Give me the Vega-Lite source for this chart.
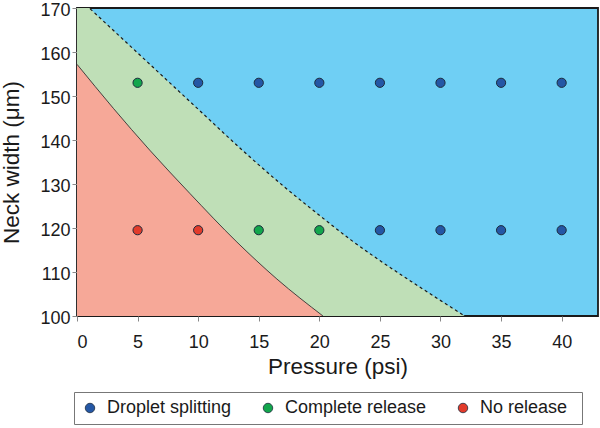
{
  "$schema": "https://vega.github.io/schema/vega-lite/v6.json",
  "width": 521,
  "height": 308,
  "autosize": {"type": "none"},
  "padding": {"left": 77, "top": 8, "right": 2, "bottom": 112},
  "config": {
    "font": "Liberation Sans",
    "view": {"stroke": "#1a1a1a", "strokeWidth": 1.8, "fill": "#6fcff4"},
    "axis": {
      "domain": false,
      "grid": false,
      "ticks": true,
      "tickSize": 5,
      "tickColor": "#888888",
      "labelFontSize": 18,
      "labelColor": "#1a1a1a",
      "titleFontSize": 22.5,
      "titleFontWeight": "normal",
      "titleColor": "#1a1a1a"
    }
  },
  "datasets": {
    "green": [
      {"pressure": 0, "width": 172.6},
      {"pressure": 5, "width": 159.8},
      {"pressure": 10, "width": 147},
      {"pressure": 13.6, "width": 137.8},
      {"pressure": 17, "width": 129.6},
      {"pressure": 20, "width": 122.9},
      {"pressure": 22.6, "width": 117.3},
      {"pressure": 25, "width": 112.6},
      {"pressure": 28, "width": 107.1},
      {"pressure": 32, "width": 100}
    ],
    "red": [
      {"pressure": 0, "width": 157.2},
      {"pressure": 3, "width": 147.2},
      {"pressure": 6, "width": 137.7},
      {"pressure": 9.3, "width": 127.9},
      {"pressure": 13.2, "width": 116.8},
      {"pressure": 16.5, "width": 108.4},
      {"pressure": 20.3, "width": 100}
    ],
    "points": [
      {"pressure": 5, "width": 153, "outcome": "Complete release"},
      {"pressure": 10, "width": 153, "outcome": "Droplet splitting"},
      {"pressure": 15, "width": 153, "outcome": "Droplet splitting"},
      {"pressure": 20, "width": 153, "outcome": "Droplet splitting"},
      {"pressure": 25, "width": 153, "outcome": "Droplet splitting"},
      {"pressure": 30, "width": 153, "outcome": "Droplet splitting"},
      {"pressure": 35, "width": 153, "outcome": "Droplet splitting"},
      {"pressure": 40, "width": 153, "outcome": "Droplet splitting"},
      {"pressure": 5, "width": 119.5, "outcome": "No release"},
      {"pressure": 10, "width": 119.5, "outcome": "No release"},
      {"pressure": 15, "width": 119.5, "outcome": "Complete release"},
      {"pressure": 20, "width": 119.5, "outcome": "Complete release"},
      {"pressure": 25, "width": 119.5, "outcome": "Droplet splitting"},
      {"pressure": 30, "width": 119.5, "outcome": "Droplet splitting"},
      {"pressure": 35, "width": 119.5, "outcome": "Droplet splitting"},
      {"pressure": 40, "width": 119.5, "outcome": "Droplet splitting"}
    ]
  },
  "encoding": {
    "x": {
      "field": "pressure",
      "type": "quantitative",
      "scale": {"domain": [0, 43], "nice": false, "zero": false},
      "axis": {"values": [0, 5, 10, 15, 20, 25, 30, 35, 40], "title": "Pressure (psi)", "labelPadding": 12, "titlePadding": 4}
    },
    "y": {
      "field": "width",
      "type": "quantitative",
      "scale": {"domain": [100, 170], "nice": false, "zero": false},
      "axis": {"values": [100, 110, 120, 130, 140, 150, 160, 170], "title": "Neck width (μm)", "labelPadding": 2, "labelOffset": 2, "titlePadding": 16}
    }
  },
  "layer": [
    {
      "data": {"name": "green"},
      "mark": {"type": "area", "color": "#bfdfb7", "opacity": 1, "clip": true, "interpolate": "monotone"},
      "encoding": {"y2": {"datum": 100}}
    },
    {
      "data": {"name": "red"},
      "mark": {"type": "area", "color": "#f6a898", "opacity": 1, "clip": true, "interpolate": "monotone"},
      "encoding": {"y2": {"datum": 100}}
    },
    {
      "data": {"name": "green"},
      "mark": {"type": "line", "color": "#1a1a1a", "strokeWidth": 1.2, "strokeDash": [3, 3], "clip": true, "interpolate": "monotone"},
      "encoding": {}
    },
    {
      "data": {"name": "red"},
      "mark": {"type": "line", "color": "#333333", "strokeWidth": 0.9, "clip": true, "interpolate": "monotone"},
      "encoding": {}
    },
    {
      "data": {"name": "points"},
      "mark": {"type": "point", "filled": true, "opacity": 1, "size": 85, "stroke": "#1d2b3c", "strokeWidth": 1},
      "encoding": {
        "color": {
          "field": "outcome",
          "type": "nominal",
          "scale": {"domain": ["Droplet splitting", "Complete release", "No release"], "range": ["#2457a5", "#12a64c", "#e23b2b"]},
          "legend": {
            "orient": "none",
            "legendX": -3,
            "legendY": 384,
            "direction": "horizontal",
            "title": "\u00a0",
            "titleOrient": "right",
            "titleFontSize": 18,
            "titlePadding": 8,
            "labelFontSize": 18,
            "labelColor": "#1a1a1a",
            "labelOffset": 8,
            "symbolSize": 90,
            "symbolType": "circle",
            "symbolStrokeColor": "#1d2b3c",
            "symbolStrokeWidth": 0.8,
            "columnPadding": 27,
            "padding": 7,
            "strokeColor": "#777777",
            "fillColor": "#ffffff"
          }
        }
      }
    }
  ]
}
